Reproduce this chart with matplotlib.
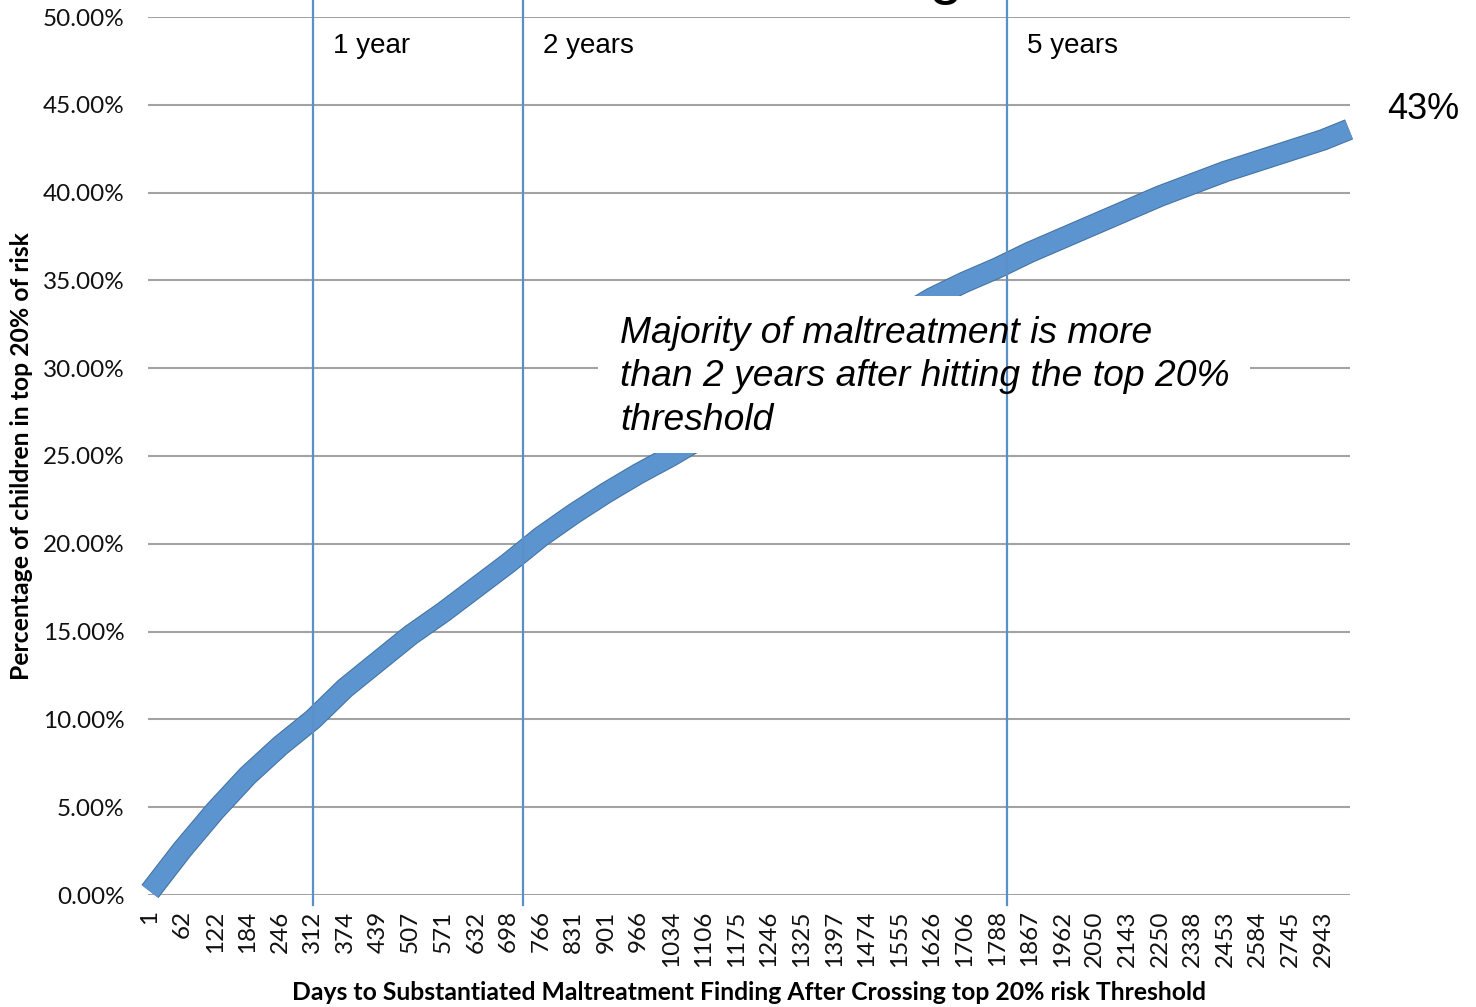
import matplotlib
matplotlib.use("Agg")
import matplotlib.pyplot as plt
import matplotlib.patheffects as pe
from matplotlib.patches import Rectangle
from matplotlib.ticker import FuncFormatter

# Category labels (days) shown on the x axis
day_labels = [1, 62, 122, 184, 246, 312, 374, 439, 507, 571, 632, 698,
              766, 831, 901, 966, 1034, 1106, 1175, 1246, 1325, 1397,
              1474, 1555, 1626, 1706, 1788, 1867, 1962, 2050, 2143, 2250,
              2338, 2453, 2584, 2745, 2943]

# Cumulative percentage of children at each labelled category
cum_pct = [0.2, 2.6, 4.8, 6.8, 8.5, 10.0, 11.8, 13.3, 14.8, 16.1, 17.5, 18.9,
           20.4, 21.7, 22.9, 24.0, 25.0, 26.1, 27.2, 28.4, 29.5, 30.7, 31.8,
           32.9, 34.0, 34.9, 35.7, 36.6, 37.4, 38.2, 39.0, 39.8, 40.5, 41.2,
           41.8, 42.4, 43.0]
# Final category after the last label
final_pos = 36.8
final_pct = 43.6

# Reference horizons on the category axis
horizon_pos = [5.0, 11.45, 26.3]
horizon_txt = ["1 year", "2 years", "5 years"]

W, H = 1476, 1007
fig = plt.figure(figsize=(W / 100, H / 100), dpi=100)
ax_l, ax_r, ax_b, ax_t = 148, 1350, 895, 17
ax = fig.add_axes([ax_l / W, (H - ax_b) / H, (ax_r - ax_l) / W, (ax_b - ax_t) / H])

xs = list(range(len(cum_pct))) + [final_pos]
ys = cum_pct + [final_pct]

ax.set_xlim(-0.06, 36.83)
ax.set_ylim(0, 50)

for s in ax.spines.values():
    s.set_visible(False)

# horizontal gridlines
for v in range(0, 51, 5):
    ax.axhline(v, color="#a3a3a3", lw=1.5, zorder=1)

ax.plot(xs, ys, color="#5b94cf", lw=14, solid_capstyle="butt",
        solid_joinstyle="round", zorder=3, clip_on=False,
        path_effects=[pe.Stroke(linewidth=15.5, foreground="#44729f"), pe.Normal()])

# y ticks
ax.set_yticks(range(0, 51, 5))
ax.yaxis.set_major_formatter(FuncFormatter(lambda v, p: f"{v:.2f}%"))
ax.tick_params(axis="y", length=0, pad=17, labelsize=17.5, labelcolor="#111111")
for t in ax.get_yticklabels():
    t.set_fontfamily("Lato")

# x ticks
ax.set_xticks(range(len(day_labels)))
ax.set_xticklabels([str(d) for d in day_labels], rotation=90, fontfamily="Lato",
                   fontsize=17.5, color="#111111", va="top", ha="center")
ax.tick_params(axis="x", length=0, pad=11)

ax.set_xlabel("Days to Substantiated Maltreatment Finding After Crossing top 20% risk Threshold",
              fontfamily="Lato", fontweight="bold", fontsize=17.8)
ax.set_ylabel("Percentage of children in top 20% of risk",
              fontfamily="Lato", fontweight="bold", fontsize=17.8)
ax.xaxis.set_label_coords((749 - ax_l) / (ax_r - ax_l), -(993 - ax_b) / (ax_b - ax_t))
ax.yaxis.set_label_coords(-(ax_l - 22) / (ax_r - ax_l), 0.5)
ax.xaxis.label.set_va("center")
ax.yaxis.label.set_va("center")

# annotation box
ax.add_patch(Rectangle((0.3744, 0.5034), 0.9168 - 0.3744, 0.682 - 0.5034,
                       transform=ax.transAxes, facecolor="white", edgecolor="none",
                       zorder=4))
ax.text(0.3927, 0.659,
        "Majority of maltreatment is more\nthan 2 years after hitting the top 20%\nthreshold",
        transform=ax.transAxes, fontfamily="Liberation Sans", fontstyle="italic",
        fontsize=26.8, va="top", ha="left", linespacing=1.3, zorder=6)

# horizon markers
for pos, txt in zip(horizon_pos, horizon_txt):
    ax.axvline(pos, ymin=-0.0114, ymax=1.02, color="#5b8fc8", lw=1.6,
               clip_on=False, zorder=5)
    ax.annotate(txt, xy=(pos, 0.959), xycoords=("data", "axes fraction"),
                xytext=(20, 0), textcoords="offset pixels",
                fontfamily="Liberation Sans", fontsize=20, va="baseline",
                ha="left", zorder=6)

ax.annotate("43%", xy=(final_pos, final_pct), xytext=(38, 10),
            textcoords="offset pixels", fontfamily="Liberation Sans",
            fontsize=26, va="baseline", ha="left", annotation_clip=False)

# tail of the slide title above the chart
fig.text(945 / W, 1.008, "g", fontfamily="Liberation Sans", fontsize=44,
         ha="center", va="baseline")

fig.savefig("out.png", dpi=100, facecolor="white")
